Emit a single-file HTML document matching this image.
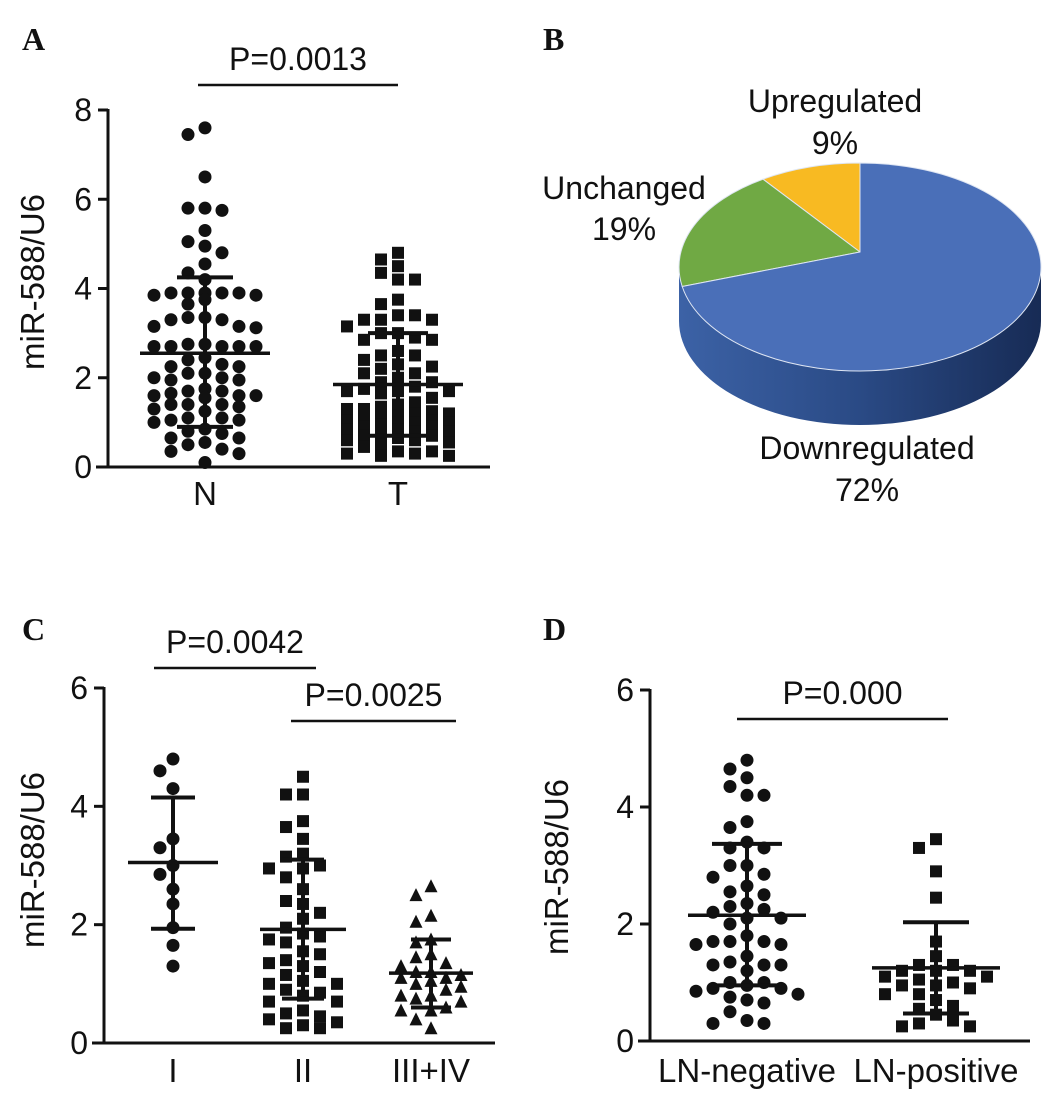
<!DOCTYPE html>
<html><head><meta charset="utf-8"><style>
html,body{margin:0;padding:0;background:#fff;}
svg{display:block;}
text{font-family:"Liberation Sans",Arial,sans-serif;fill:#111;}
.lt{font-family:"Liberation Serif",serif;font-weight:bold;font-size:32px;}
</style></head><body>
<svg id="fig" width="1045" height="1094" viewBox="0 0 1045 1094" xmlns="http://www.w3.org/2000/svg">
<text class="lt" x="22" y="50">A</text>
<text class="lt" x="543" y="50">B</text>
<text class="lt" x="22" y="640">C</text>
<text class="lt" x="543" y="640">D</text>
<g id="pie"></g>
<g id="pA"></g>
<g id="pC"></g>
<g id="pD"></g>
</svg>
<script>
// ---- Data ----
const aCategories = ["N","T"];
const aN = [7.6,7.45,6.5,5.8,5.75,5.8,5.3,5.05,4.95,4.8,4.55,4.35,4.2,3.9,3.9,3.85,3.9,3.9,3.9,3.85,3.75,3.65,3.3,3.15,3.12,3.35,3.35,3.15,3.3,2.75,2.7,2.7,2.75,2.7,2.7,2.7,2.45,2.3,2.25,2.1,2.25,2.4,2.0,1.95,2.0,2.1,1.95,1.75,1.7,1.6,1.6,1.55,1.65,1.6,1.7,1.4,1.4,1.3,1.25,1.35,1.4,1.1,1.05,1.0,1.05,1.1,0.85,0.8,0.75,0.65,0.65,0.5,0.55,0.35,0.3,0.4,0.1];
const aT = [4.8,4.65,4.5,4.35,4.2,4.2,3.75,3.65,3.4,3.4,3.3,3.3,3.3,3.15,3.0,3.0,2.9,2.85,2.85,2.6,2.5,2.5,2.4,2.3,2.25,2.2,2.1,2.1,2.0,1.9,1.9,1.8,1.75,1.7,1.7,1.7,1.65,1.55,1.45,1.4,1.35,1.3,1.3,1.25,1.2,1.2,1.15,1.1,1.1,1.05,1.05,1.0,1.0,1.0,0.95,0.9,0.9,0.85,0.85,0.8,0.8,0.75,0.7,0.7,0.65,0.6,0.6,0.55,0.5,0.45,0.35,0.35,0.3,0.3,0.25,0.25];
const aMean = [2.55,1.85];
const aUpper = [4.25,3.0];
const aLower = [0.9,0.7];
const aTicks = [0,2,4,6,8];

const cCategories = ["I","II","III+IV"];
const cI = [4.8,4.6,4.3,3.45,3.3,3.0,2.85,2.6,2.35,1.95,1.65,1.3];
const cII = [4.5,4.2,4.2,3.75,3.65,3.45,3.2,3.15,3.0,2.95,2.95,2.8,2.6,2.4,2.35,2.2,2.1,1.95,1.85,1.8,1.75,1.7,1.55,1.5,1.4,1.35,1.3,1.2,1.15,1.05,1.0,1.0,0.9,0.85,0.8,0.7,0.7,0.55,0.5,0.45,0.4,0.35,0.3,0.25,0.25];
const cIII = [2.65,2.5,2.15,2.05,1.75,1.7,1.5,1.45,1.35,1.3,1.2,1.2,1.15,1.1,1.1,1.05,1.0,0.95,0.9,0.8,0.8,0.75,0.7,0.6,0.55,0.55,0.4,0.25];
const cMean = [3.05,1.92,1.18];
const cUpper = [4.15,3.1,1.75];
const cLower = [1.93,0.75,0.6];
const cdTicks = [0,2,4,6];

const dCategories = ["LN-negative","LN-positive"];
const dNeg = [4.8,4.65,4.5,4.35,4.2,4.2,3.75,3.65,3.4,3.3,3.3,3.0,3.0,2.85,2.8,2.65,2.55,2.5,2.35,2.3,2.25,2.2,2.1,2.1,2.0,1.8,1.7,1.7,1.65,1.65,1.7,1.45,1.35,1.3,1.3,1.3,1.2,1.0,1.0,0.95,0.9,0.9,0.85,0.8,0.75,0.7,0.65,0.5,0.35,0.3,0.3];
const dPos = [3.45,3.3,2.9,2.45,1.7,1.45,1.3,1.3,1.2,1.2,1.2,1.1,1.1,1.05,1.0,0.95,0.95,0.9,0.8,0.8,0.7,0.6,0.55,0.45,0.35,0.3,0.25,0.25];
const dMean = [2.15,1.25];
const dUpper = [3.37,2.03];
const dLower = [0.95,0.47];

const pieLabels = ["Upregulated","Unchanged","Downregulated"];
const pieValues = [9,19,72];

const NS="http://www.w3.org/2000/svg";
function mk(parent,tag,attrs){const e=document.createElementNS(NS,tag);for(const k in attrs)e.setAttribute(k,attrs[k]);parent.appendChild(e);return e;}

function panel(g,o){
  const ys=v=>o.y0-v*(o.y0-o.yTop)/o.max;
  let ax=mk(g,'line',{x1:o.ax,y1:o.yTop-1,x2:o.ax,y2:o.y0+1.5,stroke:'#111','stroke-width':3});
  
  
  let bx=mk(g,'line',{x1:o.ax-12,y1:o.y0,x2:o.axEnd,y2:o.y0,stroke:'#111','stroke-width':3});
  
  
  o.ticks.forEach(t=>{
    let tl=mk(g,'line',{x1:o.ax-10,y1:ys(t),x2:o.ax,y2:ys(t),stroke:'#111','stroke-width':3});
    
    
    let tx=mk(g,'text',{x:o.ax-16,y:ys(t)+11,'text-anchor':'end','font-size':32});
    tx.textContent=t;
    
    
  });
  let yl=mk(g,'text',{x:0,y:0,'text-anchor':'middle','font-size':33,transform:`translate(${o.ylx},${o.yly}) rotate(-90)`});
  yl.textContent='miR-588/U6';
  
  
  o.groups.forEach((grp,gi)=>{
    const cx=o.xs[gi];
    let lab=mk(g,'text',{x:cx,y:o.labY,'text-anchor':'middle','font-size':o.labSize||33});
    lab.textContent=o.cats[gi];
    
    
    const placed=[];const slots=[0];
    for(let k=1;k<=grp.maxSlot;k++){slots.push(-k);slots.push(k);}
    const sorted=grp.vals.slice().sort((a,b)=>b-a);
    sorted.forEach(v=>{
      const py=ys(v);let best=slots[0],bestC=1e9;
      for(const s of slots){
        let c=0;placed.forEach(p=>{if(p.s===s&&Math.abs(p.y-py)<12)c+=12-Math.abs(p.y-py);});
        if(c===0){best=s;bestC=0;break;}
        if(c<bestC){bestC=c;best=s;}
      }
      placed.push({s:best,y:py});
      const px=cx+best*grp.sp;
      let m;
      if(grp.shape==='c')m=mk(g,'circle',{cx:px,cy:py,r:6.5,fill:'#111'});
      else if(grp.shape==='s')m=mk(g,'rect',{x:px-6,y:py-6,width:12,height:12,fill:'#111'});
      else m=mk(g,'polygon',{points:`${px},${py-7} ${px-6.5},${py+6} ${px+6.5},${py+6}`,fill:'#111'});
      
      
    });
    let ml=mk(g,'line',{x1:cx-grp.mh,y1:ys(o.mean[gi]),x2:cx+grp.mh,y2:ys(o.mean[gi]),stroke:'#111','stroke-width':3.5});
    
    
    let vl=mk(g,'line',{x1:cx,y1:ys(o.up[gi]),x2:cx,y2:ys(o.lo[gi]),stroke:'#111','stroke-width':4});
    
    
    [o.up[gi],o.lo[gi]].forEach(v=>{
      let cap=mk(g,'line',{x1:cx-grp.sh,y1:ys(v),x2:cx+grp.sh,y2:ys(v),stroke:'#111','stroke-width':4});
      
      
    });
  });
  o.pvals.forEach(p=>{
    let l=mk(g,'line',{x1:p.x1,y1:p.y,x2:p.x2,y2:p.y,stroke:'#111','stroke-width':2.5});
    
    
    let t=mk(g,'text',{x:(p.x1+p.x2)/2,y:p.y-15,'text-anchor':'middle','font-size':32});
    t.textContent=p.t;
    
    
  });
}

panel(document.getElementById('pA'),{y0:467,yTop:110,max:8,ax:108,axEnd:490,ticks:aTicks,ylx:44,yly:282,
  xs:[205,398],cats:aCategories,labY:505,mean:aMean,up:aUpper,lo:aLower,
  groups:[{vals:aN,shape:'c',sp:17,maxSlot:3,mh:65,sh:28},{vals:aT,shape:'s',sp:17,maxSlot:3,mh:65,sh:30}],
  pvals:[{x1:198,x2:398,y:85,t:'P=0.0013'}]});
panel(document.getElementById('pC'),{y0:1043,yTop:688,max:6,ax:104,axEnd:495,ticks:cdTicks,ylx:44,yly:860,
  xs:[173,303,431],cats:cCategories,labY:1082,mean:cMean,up:cUpper,lo:cLower,
  groups:[{vals:cI,shape:'c',sp:13,maxSlot:2,mh:45,sh:22},{vals:cII,shape:'s',sp:17,maxSlot:2,mh:43,sh:21},{vals:cIII,shape:'t',sp:15,maxSlot:2,mh:42,sh:20}],
  pvals:[{x1:154,x2:316,y:668,t:'P=0.0042'},{x1:291,x2:456,y:721,t:'P=0.0025'}]});
panel(document.getElementById('pD'),{y0:1041,yTop:690,max:6,ax:650,axEnd:1030,ticks:cdTicks,ylx:568,yly:867,
  xs:[747,936],cats:dCategories,labY:1082,mean:dMean,up:dUpper,lo:dLower,
  groups:[{vals:dNeg,shape:'c',sp:17,maxSlot:3,mh:59,sh:35},{vals:dPos,shape:'s',sp:17,maxSlot:3,mh:64,sh:33}],
  pvals:[{x1:737,x2:948,y:719,t:'P=0.000'}]});

// ---- Pie ----
(function(){
  const g=document.getElementById('pie');
  const cx=860,cy=267,rx=181,ry=104,depth=54,apexY=252;
  const colors=['#F8BA22','#70A944','#4A6FB8'];
  const defs=mk(g,'defs',{});
  const lg=mk(defs,'linearGradient',{id:'side',x1:0,y1:0,x2:1,y2:0});
  mk(lg,'stop',{offset:'0','stop-color':'#3C62A6'});
  mk(lg,'stop',{offset:'0.5','stop-color':'#2A4A85'});
  mk(lg,'stop',{offset:'1','stop-color':'#172B55'});
  const side=mk(g,'path',{d:`M${cx-rx},${cy} A${rx},${ry} 0 0 0 ${cx+rx},${cy} L${cx+rx},${cy+depth} A${rx},${ry} 0 0 1 ${cx-rx},${cy+depth} Z`,fill:'url(#side)'});
  
  
  const total=pieValues.reduce((a,b)=>a+b,0);
  let ang=90;
  const pt=a=>[cx+rx*Math.cos(a*Math.PI/180),cy-ry*Math.sin(a*Math.PI/180)];
  pieValues.forEach((v,i)=>{
    const a2=ang+v/total*360;
    const [x1,y1]=pt(ang),[x2,y2]=pt(a2);
    const large=(a2-ang)>180?1:0;
    let d;
    if(large){
      // big slice: go around the full remaining arc through the apex
      d=`M${cx},${apexY} L${x1},${y1} A${rx},${ry} 0 1 0 ${x2},${y2} Z`;
    } else {
      d=`M${cx},${apexY} L${x1},${y1} A${rx},${ry} 0 0 0 ${x2},${y2} Z`;
    }
    const s=mk(g,'path',{d:d,fill:colors[i],stroke:'#dfe6f3','stroke-width':1});
    
    
    ang=a2;
  });
  const labs=[[835,112,835,154],[624,199,624,240],[867,459,867,501]];
  pieLabels.forEach((l,i)=>{
    const t=mk(g,'text',{x:labs[i][0],y:labs[i][1],'text-anchor':'middle','font-size':32});
    t.textContent=l;
    
    
    const p=mk(g,'text',{x:labs[i][2],y:labs[i][3],'text-anchor':'middle','font-size':32});
    p.textContent=pieValues[i]+'%';
    
    
  });
})();
</script>
</body></html>
